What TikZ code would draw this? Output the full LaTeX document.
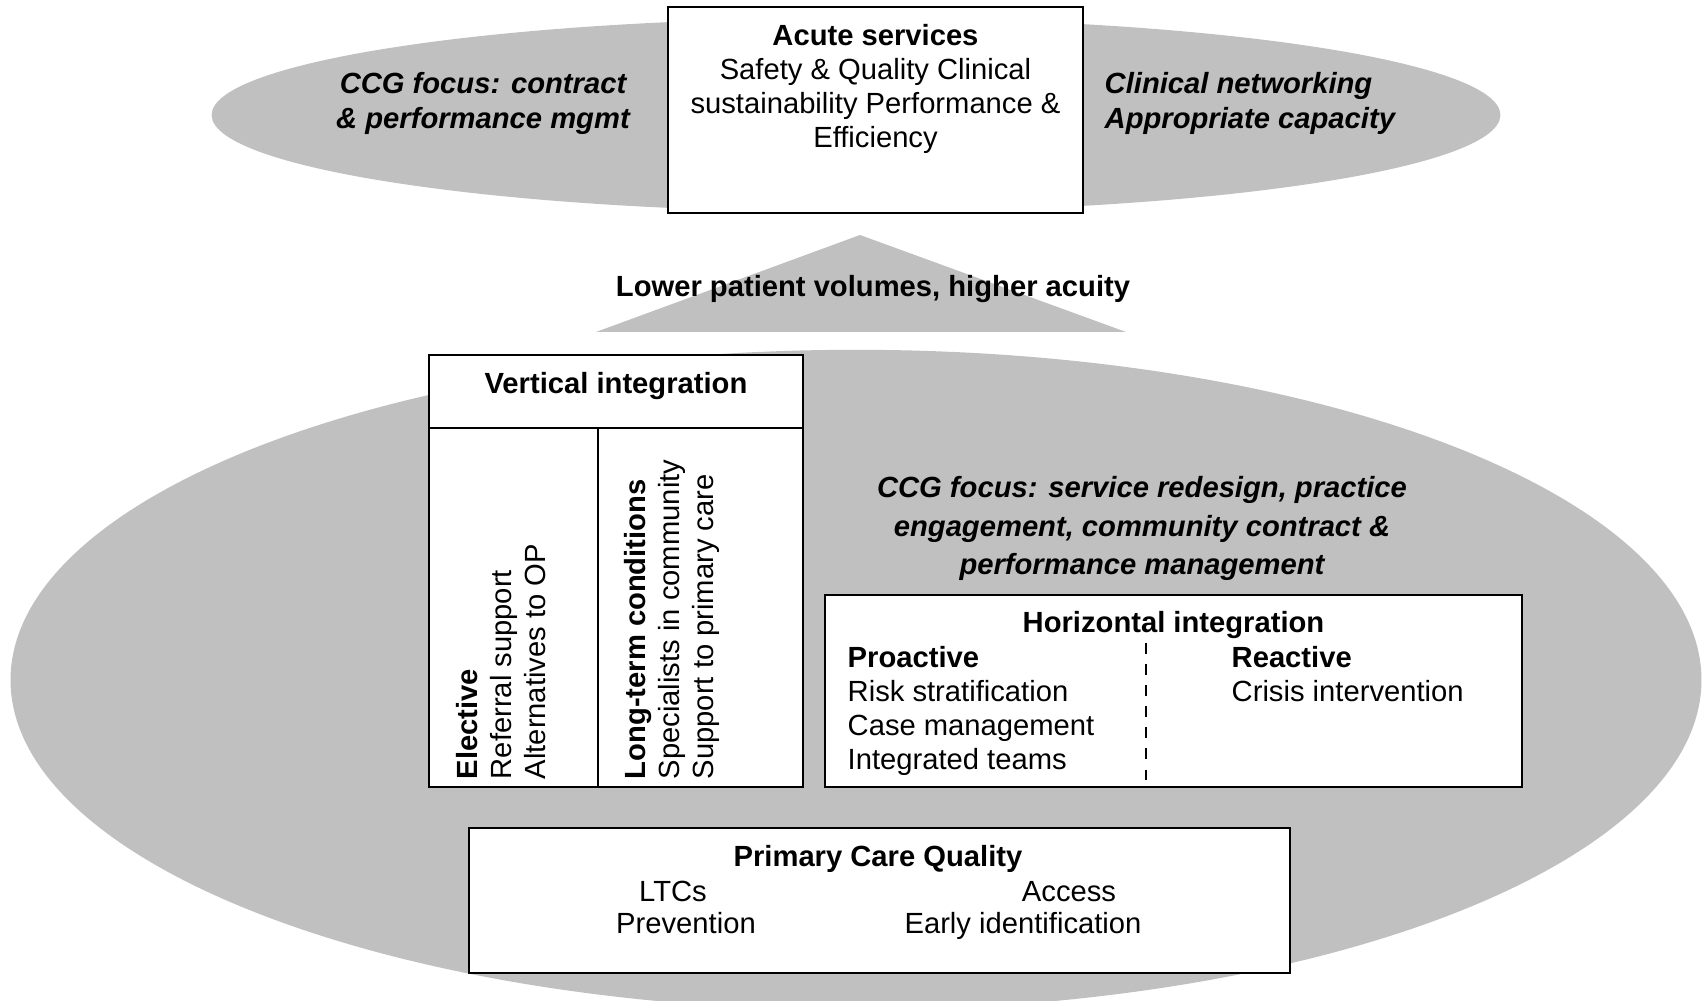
\documentclass[tikz,border=0pt]{standalone}
\usepackage{fontspec}
\setmainfont{Liberation Sans}
\usetikzlibrary{positioning,calc}
\definecolor{ovalgray}{RGB}{192,192,192}

\begin{document}
\begin{tikzpicture}[x=0.01cm,y=-0.01cm,
	box/.style={draw,fill=white,line width=0.6pt,inner sep=0pt,outer sep=0pt},
	txt/.style={inner sep=0pt,font=\fontsize{8.3}{9.65}\selectfont},
	bold/.style={txt,font=\fontsize{8.3}{9.65}\selectfont\bfseries},
	focus/.style={txt,font=\fontsize{8.3}{9.8}\selectfont\bfseries\itshape}]
	\useasboundingbox (0,0) rectangle (1702,1001);
	\fill[ovalgray] (856,115) ellipse (6.44cm and 0.97cm);
	\node[box,minimum width=4.15cm,minimum height=2.06cm] (acute) at (875.5,110) {};
	\node[txt,align=center,anchor=north] (acutetxt) at (875.5,24) {\textbf{Acute services}\\Safety \& Quality Clinical\\sustainability Performance \&\\Efficiency};
	\node[focus,align=center,anchor=north] (acutefocus) at (483,72) {CCG focus: contract\\\& performance mgmt};
	\node[focus,align=left,anchor=north west] (network) at (1104,72) {Clinical networking\\Appropriate capacity};
	\fill[ovalgray] (860,235) -- (596,332) -- (1126,332) -- cycle;
	\node[bold,anchor=base] (acuity) at (873,297) {Lower patient volumes, higher acuity};
	\fill[ovalgray] (856,680) ellipse (8.45cm and 3.3cm);
	\node[box,minimum width=3.74cm,minimum height=0.73cm,anchor=north west] (verthead) at (429,355) {};
	\node[box,minimum width=1.69cm,minimum height=3.59cm,below right=0pt of verthead.south west] (elective) {};
	\node[box,minimum width=2.05cm,minimum height=3.59cm,below right=0pt of elective.north east] (ltc) {};
	\node[bold,anchor=base] (verttitle) at (616,394) {Vertical integration};
	\node[txt,rotate=90,align=left,anchor=north west] (electxt) at (456,780) {\textbf{Elective}\\Referral support\\Alternatives to OP};
	\node[txt,rotate=90,align=left,anchor=north west] (ltctxt) at (624,780) {\textbf{Long-term conditions}\\Specialists in community\\Support to primary care};
	\node[focus,align=center,anchor=north,font=\fontsize{8.3}{10.9}\selectfont\bfseries\itshape] (commfocus) at (1142,476) {CCG focus: service redesign, practice\\engagement, community contract \&\\performance management};
	\node[box,minimum width=6.97cm,minimum height=1.92cm] (horiz) at (1173.5,691) {};
	\node[bold,anchor=base] (horiztitle) at (1173.5,633) {Horizontal integration};
	\node[txt,align=left,anchor=north west] (proactive) at (847,646) {\textbf{Proactive}\\Risk stratification\\Case management\\Integrated teams};
	\node[txt,align=left,anchor=north west] (reactive) at (1231,646) {\textbf{Reactive}\\Crisis intervention};
	\coordinate (dashtop) at (1146,643);
	\draw[dashed,line width=0.5pt] (dashtop) -- (dashtop |- horiz.south);
	\node[box,minimum width=8.21cm,minimum height=1.45cm] (primary) at (879.5,900.5) {};
	\node[bold,anchor=base] (primtitle) at (878,867) {Primary Care Quality};
	\node[txt,anchor=base] (ltcs) at (673,902) {LTCs};
	\node[txt,anchor=base] (access) at (1069,902) {Access};
	\node[txt,anchor=base] (prevention) at (686,934) {Prevention};
	\node[txt,anchor=base] (earlyid) at (1023,934) {Early identification};
\end{tikzpicture}
\end{document}
